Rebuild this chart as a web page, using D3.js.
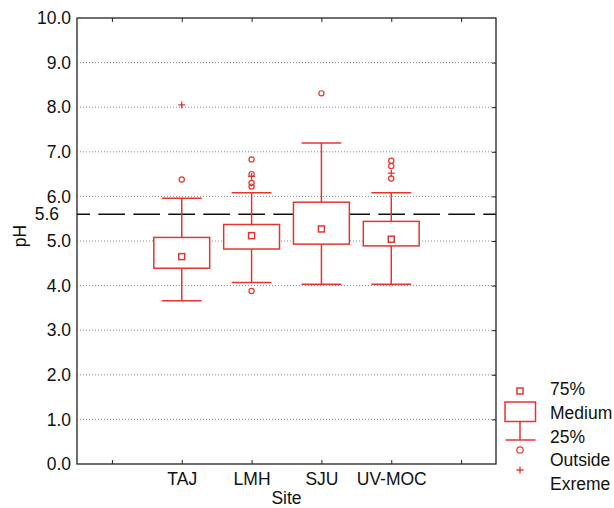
<!DOCTYPE html>
<html>
<head>
<meta charset="utf-8">
<script src="https://cdn.jsdelivr.net/npm/d3@7/dist/d3.min.js"></script>
<style>
  html, body { margin: 0; padding: 0; background: #fff; }
  svg { display: block; font-family: "Liberation Sans", Arial, sans-serif; }
</style>
</head>
<body>
<svg id="chart" width="614" height="508"></svg>
<script>
// pH box-and-whisker summary per sampling site
const sites = ["TAJ", "LMH", "SJU", "UV-MOC"];
const lowerWhisker = [3.66, 4.07, 4.03, 4.03];
const lowerQuartile = [4.39, 4.82, 4.93, 4.89];
const medians = [4.65, 5.12, 5.27, 5.04];
const upperQuartile = [5.08, 5.37, 5.87, 5.44];
const upperWhisker = [5.96, 6.08, 7.20, 6.08];
const outsideValues = [[6.38], [6.83, 6.50, 6.30, 6.22, 3.88], [8.31], [6.80, 6.68, 6.40]];
const extremeValues = [[8.05], [6.45], [], [6.52]];
const yTicks = [0, 1, 2, 3, 4, 5, 6, 7, 8, 9, 10];
const referencePH = 5.6;
const legendLabels = ["75%", "Medium", "25%", "Outside", "Exreme"];

const RED = "#e8342f";
const FONT = 17.5;
const svg = d3.select("#chart");
const plot = { left: 77, right: 496, top: 18, bottom: 464 };

// Empty slots either side of the sites give the frame its outer margins
const slots = ["pad-left", ...sites, "pad-right"];
const x = d3.scalePoint().domain(slots).range([plot.left, plot.right]).padding(0.5);
const y = d3.scaleLinear().domain([0, 10]).range([plot.bottom, plot.top]);
const step = x.step();
const boxW = step * 0.8;
const capW = step * 0.57;

// dotted horizontal grid
svg.append("g")
  .selectAll("line")
  .data(yTicks.filter(t => t > 0 && t < 10))
  .join("line")
  .attr("x1", plot.left).attr("x2", plot.right)
  .attr("y1", d => y(d)).attr("y2", d => y(d))
  .attr("stroke", "#8a8a8a")
  .attr("stroke-width", 1)
  .attr("stroke-dasharray", "1,2");

// dashed reference line at pH 5.6
svg.append("line")
  .attr("x1", plot.left).attr("x2", plot.right)
  .attr("y1", y(referencePH)).attr("y2", y(referencePH))
  .attr("stroke", "#111")
  .attr("stroke-width", 1.3)
  .attr("stroke-dasharray", "26.7,8.3")
  .attr("stroke-dashoffset", 13.7);

svg.append("text")
  .attr("x", 59).attr("y", y(referencePH))
  .attr("dy", "0.35em")
  .attr("text-anchor", "end")
  .attr("font-size", FONT)
  .attr("fill", "#111")
  .text(referencePH.toFixed(1));

// axes
const fmtSite = d => sites.includes(d) ? d : "";
const axisStyle = g => {
  g.select(".domain").remove();
  g.selectAll(".tick line").attr("stroke", "#222");
  g.selectAll(".tick text").attr("font-size", FONT).attr("fill", "#111").attr("font-family", "Liberation Sans, Arial, sans-serif");
};

svg.append("g")
  .attr("transform", `translate(0,${plot.bottom})`)
  .call(d3.axisBottom(x).tickSizeInner(-4).tickSizeOuter(0).tickPadding(8.5).tickFormat(fmtSite))
  .call(axisStyle);

svg.append("g")
  .attr("transform", `translate(0,${plot.top})`)
  .call(d3.axisTop(x).tickSizeInner(-4).tickSizeOuter(0).tickFormat(""))
  .call(axisStyle);

svg.append("g")
  .attr("transform", `translate(${plot.left},0)`)
  .call(d3.axisLeft(y).tickValues(yTicks).tickSizeInner(0).tickSizeOuter(0).tickPadding(6).tickFormat(d3.format(".1f")))
  .call(axisStyle);

svg.append("g")
  .attr("transform", `translate(${plot.right},0)`)
  .call(d3.axisRight(y).tickValues(yTicks.filter(t => t > 0 && t < 10)).tickSizeInner(-4).tickSizeOuter(0).tickFormat(""))
  .call(axisStyle);

// frame
svg.append("rect")
  .attr("x", plot.left).attr("y", plot.top)
  .attr("width", plot.right - plot.left).attr("height", plot.bottom - plot.top)
  .attr("fill", "none").attr("stroke", "#222").attr("stroke-width", 1.3);

// axis titles
svg.append("text")
  .attr("x", (plot.left + plot.right) / 2).attr("y", 504)
  .attr("text-anchor", "middle").attr("font-size", FONT).attr("fill", "#111")
  .text("Site");

svg.append("text")
  .attr("transform", `translate(25.5,236) rotate(-90)`)
  .attr("text-anchor", "middle").attr("font-size", FONT).attr("fill", "#111")
  .text("pH");

// boxes
const boxes = svg.append("g")
  .attr("stroke", RED).attr("stroke-width", 1.5).attr("fill", "none");

sites.forEach((s, i) => {
  const cx = x(s);
  const g = boxes.append("g");
  // whiskers
  g.append("line").attr("x1", cx).attr("x2", cx)
    .attr("y1", y(upperQuartile[i])).attr("y2", y(upperWhisker[i]));
  g.append("line").attr("x1", cx).attr("x2", cx)
    .attr("y1", y(lowerQuartile[i])).attr("y2", y(lowerWhisker[i]));
  g.append("line").attr("x1", cx - capW / 2).attr("x2", cx + capW / 2)
    .attr("y1", y(upperWhisker[i])).attr("y2", y(upperWhisker[i]));
  g.append("line").attr("x1", cx - capW / 2).attr("x2", cx + capW / 2)
    .attr("y1", y(lowerWhisker[i])).attr("y2", y(lowerWhisker[i]));
  // interquartile box
  g.append("rect")
    .attr("x", cx - boxW / 2).attr("width", boxW)
    .attr("y", y(upperQuartile[i]))
    .attr("height", y(lowerQuartile[i]) - y(upperQuartile[i]))
    .attr("fill", "#fff");
  // median marker
  g.append("rect")
    .attr("x", cx - 3).attr("y", y(medians[i]) - 3)
    .attr("width", 6).attr("height", 6);
  // outside points
  g.selectAll("circle.out")
    .data(outsideValues[i])
    .join("circle")
    .attr("class", "out")
    .attr("cx", cx).attr("cy", d => y(d)).attr("r", 2.6)
    .attr("stroke-width", 1.2);
  // extreme points
  g.selectAll("path.ext")
    .data(extremeValues[i])
    .join("path")
    .attr("class", "ext")
    .attr("d", d => `M${cx - 3.5},${y(d)}H${cx + 3.5}M${cx},${y(d) - 3.5}V${y(d) + 3.5}`)
    .attr("stroke-width", 1.3);
});

// legend
const lg = svg.append("g").attr("stroke", RED).attr("stroke-width", 1.5).attr("fill", "none");
const lx = 520;
lg.append("rect").attr("x", lx - 3).attr("y", 388).attr("width", 6).attr("height", 6);
lg.append("rect").attr("x", 505).attr("y", 402).attr("width", 30.5).attr("height", 19.5);
lg.append("line").attr("x1", lx).attr("x2", lx).attr("y1", 421.5).attr("y2", 440);
lg.append("line").attr("x1", 505.5).attr("x2", 535.5).attr("y1", 440).attr("y2", 440);
lg.append("circle").attr("cx", lx).attr("cy", 450).attr("r", 3.2).attr("stroke-width", 1.2);
lg.append("path").attr("d", `M${lx - 3.5},470H${lx + 3.5}M${lx},466.5V473.5`).attr("stroke-width", 1.3);

const legendBaselines = [395, 419, 443, 466, 490];
svg.append("g")
  .selectAll("text")
  .data(legendLabels)
  .join("text")
  .attr("x", 550)
  .attr("y", (d, i) => legendBaselines[i])
  .attr("font-size", FONT).attr("fill", "#111")
  .text(d => d);
</script>
</body>
</html>
